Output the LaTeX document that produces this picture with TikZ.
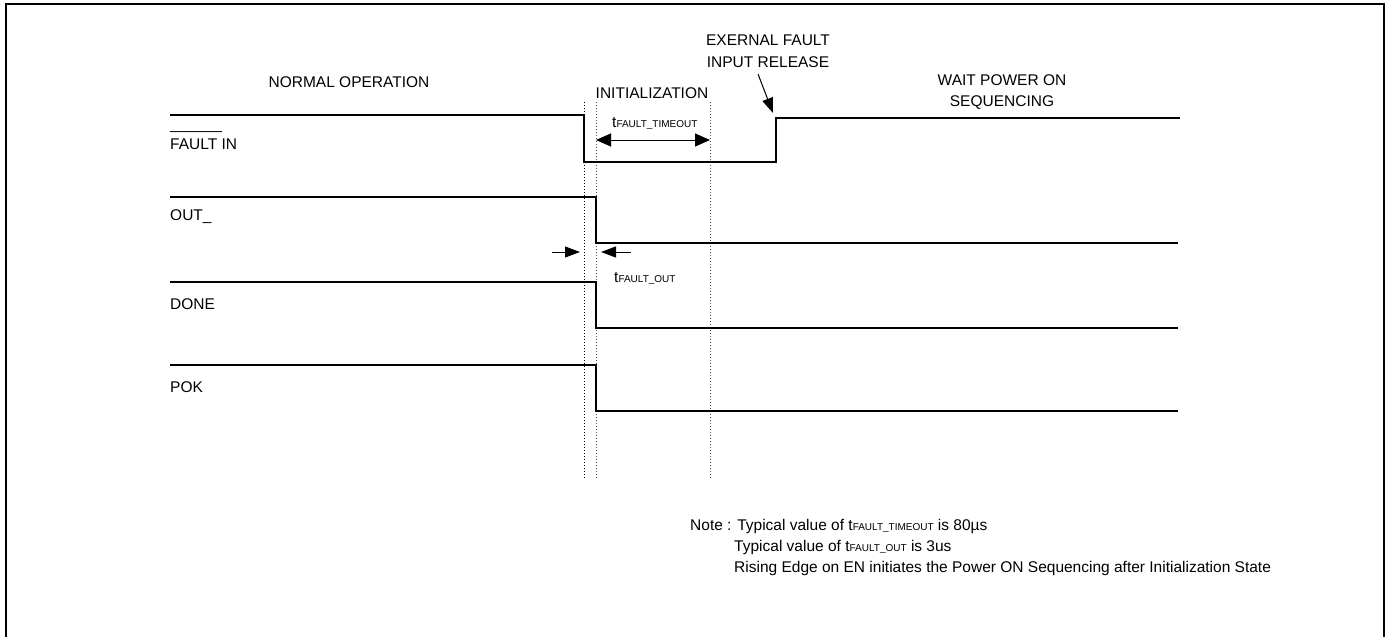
\documentclass[tikz,border=0pt]{standalone}
\usepackage{fontspec}
\setmainfont{Liberation Sans}
\usetikzlibrary{arrows.meta}
\newcommand{\mysub}[1]{t{\fontsize{10}{10}\selectfont #1}}
\tikzset{
  lbl/.style={inner sep=0pt, font=\fontsize{15.5}{18}\selectfont},
  sig/.style={line width=2pt, line join=miter},
  guide/.style={line width=1pt, dotted},
  frame/.style={line width=2pt},
  dim/.style={line width=1pt, -{Triangle[length=15pt,width=11pt]}},
  ddim/.style={line width=1pt, {Triangle[length=15pt,width=13pt]}-{Triangle[length=15pt,width=13pt]}}
}
\begin{document}
\begin{tikzpicture}[x=1pt,y=-1pt]
\useasboundingbox (0,0) rectangle (1390,637);
% frame
\draw[frame] (6,640) -- (6,4) -- (1384,4) -- (1384,640);

% guides
\draw[guide] (584,102) -- (584,478);
\draw[guide, black!70] (596,102) -- (596,478);
\draw[guide, black!70] (710,102) -- (710,478);

% signals
\draw[sig] (170,115) -- (584,115) -- (584,162) -- (776,162) -- (776,118) -- (1180,118);
\draw[sig] (170,197) -- (596,197) -- (596,243) -- (1178,243);
\draw[sig] (170,282) -- (596,282) -- (596,328) -- (1178,328);
\draw[sig] (170,365) -- (596,365) -- (596,411) -- (1178,411);

% signal labels
\node[lbl, anchor=base west] (ovb) at (170,129) {\_\_\_\_\_\_};
\node[lbl, anchor=base west] (fin) at (170,149) {FAULT IN};
\node[lbl, anchor=base west] (out) at (170,220) {OUT\_};
\node[lbl, anchor=base west] (done) at (170,309) {DONE};
\node[lbl, anchor=base west] (pok) at (170,392) {POK};

% state labels
\node[lbl, anchor=base] (norm) at (349,87) {NORMAL OPERATION};
\node[lbl, anchor=base] (init) at (652,98) {INITIALIZATION};
\node[lbl, anchor=base] (ext1) at (768,45) {EXERNAL FAULT};
\node[lbl, anchor=base] (ext2) at (768,67) {INPUT RELEASE};
\node[lbl, anchor=base] (wait1) at (1002,85) {WAIT POWER ON};
\node[lbl, anchor=base] (wait2) at (1002,106) {SEQUENCING};

% external fault arrow
\coordinate (ea) at (758,74);
\coordinate (eb) at (773,113);
\draw[dim] (ea) -- (eb);

% timeout dimension
\coordinate (ta) at (596,140);
\coordinate (tb) at (710,140);
\draw[ddim] (ta) -- (tb);
\node[lbl, anchor=base west] (tto) at (612,127) {\mysub{FAULT\_TIMEOUT}};

% fault out dimension
\coordinate (oa1) at (552,252);
\coordinate (oa2) at (580,252);
\coordinate (ob1) at (631,252);
\coordinate (ob2) at (601,252);
\draw[dim] (oa1) -- (oa2);
\draw[dim] (ob1) -- (ob2);
\node[lbl, anchor=base west] (tfo) at (614,282) {\mysub{FAULT\_OUT}};

% notes
\node[lbl, anchor=base west] (n1) at (690,530) {Note : Typical value of \mysub{FAULT\_TIMEOUT} is 80µs};
\node[lbl, anchor=base west] (n2) at (734,551) {Typical value of \mysub{FAULT\_OUT} is 3us};
\node[lbl, anchor=base west] (n3) at (734,572) {Rising Edge on EN initiates the Power ON Sequencing after Initialization State};
\end{tikzpicture}
\end{document}
